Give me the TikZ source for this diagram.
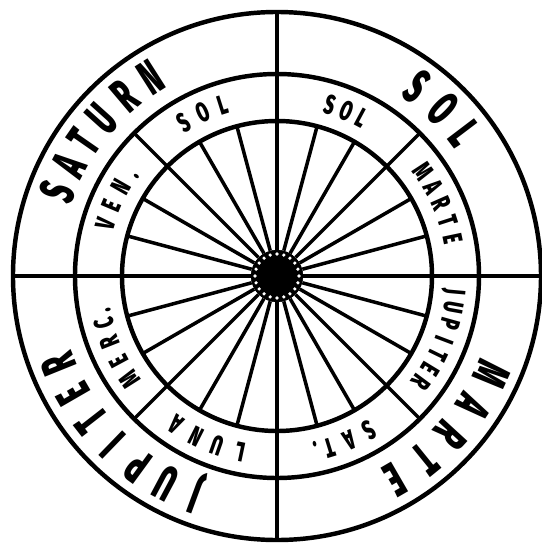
\documentclass[tikz,border=0pt]{standalone}
\usepackage{fontspec}
\usepackage{graphicx}
\IfFontExistsTF{Fira Sans Black}
  {\newfontfamily\dialfont{Fira Sans Black}}
  {\newfontfamily\dialfont{Liberation Sans Bold}}
\newcommand{\planetch}[1]{\scalebox{0.55}[1]{#1}}
\newcommand{\housech}[1]{\scalebox{0.62}[1]{#1}}

\begin{document}
\begin{tikzpicture}[x=0.03cm,y=0.03cm,
    ring/.style={draw,circle,line width=3.8pt,inner sep=0pt,outer sep=0pt},
    axis/.style={line width=3.8pt},
    spoke/.style={line width=3pt},
    planet/.style={font=\dialfont\fontsize{42}{42}\selectfont,inner sep=0pt,anchor=base},
    house/.style={font=\dialfont\fontsize{23.5}{23.5}\selectfont,inner sep=0pt,anchor=base}]
  \useasboundingbox (-277,-270) rectangle (265,276);
  \node[ring,minimum size=15.84cm] (rim) at (0,0) {};
  \node[ring,minimum size=12.12cm] (mid) at (0,0) {};
  \node[ring,minimum size=9.3cm] (inner) at (0,0) {};
  \node[circle,fill,minimum size=1.56cm,inner sep=0pt] (hub) at (0,0) {};
  % spokes and quarters
  \foreach \a in {0,15,...,345} \draw[spoke] (hub.\a) -- (inner.\a);
  \foreach \a in {45,135,225,315} \draw[spoke] (inner.\a) -- (mid.\a);
  \draw[axis] (rim.north) -- (rim.south);
  \draw[axis] (rim.west) -- (rim.east);
  \fill (hub) circle (26);
  \foreach \a in {0,18,...,342} \fill[white] (\a:22) circle (1.8);
  % outer ring
  \foreach \ch/\a in {S/53.4,O/45.3,L/37.2}
    \node[planet,rotate=\a-90] at (\a:218.5) {\planetch{\ch}};
  \foreach \ch/\a in {S/159,A/152,T/145.2,U/138,R/130.3,N/122.5}
    \node[planet,rotate=\a-90] at (\a:218.5) {\planetch{\ch}};
  \foreach \ch/\a in {J/249.8,U/241.9,P/233.9,I/225.9,T/217.9,E/210,R/202}
    \node[planet,rotate=\a-90] at (\a:218.5) {\planetch{\ch}};
  \foreach \ch/\a in {M/-24.6,A/-33.6,R/-42.5,T/-51,E/-60}
    \node[planet,rotate=\a-90] at (\a:218.5) {\planetch{\ch}};
  % inner ring
  \foreach \ch/\a in {S/72.8,O/67.2,L/61.8}
    \node[house,rotate=\a-90] at (\a:170) {\housech{\ch}};
  \foreach \ch/\a in {S/121.3,O/114.5,L/107.6}
    \node[house,rotate=\a-90] at (\a:170) {\housech{\ch}};
  \foreach \ch/\a in {V/163.1,E/157.1,N/150.2,./144.6}
    \node[house,rotate=\a-90] at (\a:170) {\housech{\ch}};
  \foreach \ch/\a in {M/215,E/208.3,R/201.6,C/195.2,./191.2}
    \node[house,rotate=\a-90] at (\a:170) {\housech{\ch}};
  \foreach \ch/\a in {L/258.2,U/250.6,N/243.2,A/235.7}
    \node[house,rotate=\a-90] at (\a:170) {\housech{\ch}};
  \foreach \ch/\a in {S/-59.1,A/-66,T/-72.9,./-77.2}
    \node[house,rotate=\a-90] at (\a:170) {\housech{\ch}};
  \foreach \ch/\a in {J/-5.1,U/-10.3,P/-15.6,I/-20.8,T/-26,E/-31.3,R/-36.5}
    \node[house,rotate=\a-90] at (\a:170) {\housech{\ch}};
  \foreach \ch/\a in {M/35.6,A/29.7,R/23.75,T/17.8,E/11.9}
    \node[house,rotate=\a-90] at (\a:170) {\housech{\ch}};
\end{tikzpicture}
\end{document}
